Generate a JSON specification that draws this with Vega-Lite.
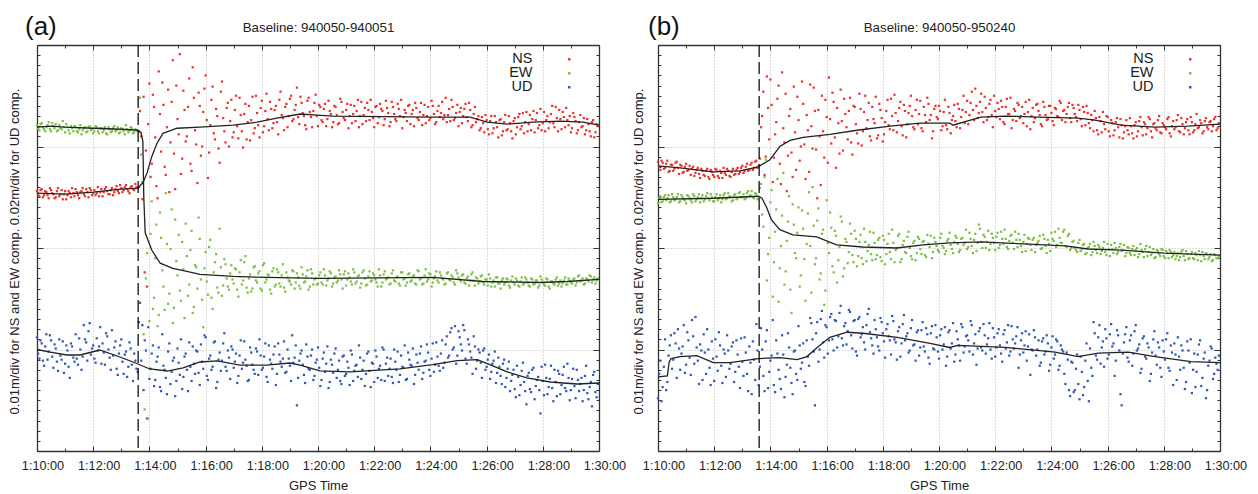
{
"$schema": "https://vega.github.io/schema/vega-lite/v6.json",
"background": "white",
"padding": {"left": 8, "top": 14, "right": 5, "bottom": 5},
"bounds": "flush",
"spacing": 59,
"config": {
  "view": {"stroke": null},
  "font": "Liberation Sans",
  "axis": {"domainColor": "#333", "domainWidth": 1.3, "tickColor": "#333", "tickWidth": 1, "gridColor": "#aaa", "gridDash": [1, 2], "gridWidth": 0.8, "labelFont": "Liberation Sans", "titleFont": "Liberation Sans", "labelColor": "#222", "titleColor": "#222", "titleFontWeight": "normal", "labelFontSize": 12.7, "titleFontSize": 13},
  "legend": {"labelFont": "Liberation Sans", "labelFontSize": 14.5, "labelColor": "#222"},
  "title": {"font": "Liberation Sans", "fontSize": 26, "fontWeight": "normal", "color": "#111"}
},
"resolve": {"scale": {"color": "independent"}, "legend": {"color": "independent"}},
"datasets": {
"pa": [
{"t":0,"NS":25.6,"EW":32.1,"UD":11.2},{"t":5,"NS":25.1,"EW":31.6,"UD":9.1},{"t":10,"NS":25.8,"EW":32.3,"UD":10.6},{"t":15,"NS":25.2,"EW":31.7,"UD":8.4},{"t":20,"NS":25.5,"EW":31.9,"UD":11.5},{"t":25,"NS":24.9,"EW":32.4,"UD":9.8},{"t":30,"NS":25.7,"EW":31.5,"UD":10.9},{"t":35,"NS":25.3,"EW":32.0,"UD":8.2},{"t":40,"NS":25.0,"EW":32.2,"UD":10.1},{"t":45,"NS":25.9,"EW":31.6,"UD":7.9},
{"t":50,"NS":25.3,"EW":31.8,"UD":9.4},{"t":55,"NS":24.8,"EW":32.5,"UD":10.8},{"t":60,"NS":25.6,"EW":31.4,"UD":8.6},{"t":65,"NS":25.2,"EW":31.9,"UD":9.9},{"t":70,"NS":25.4,"EW":31.3,"UD":7.2},{"t":75,"NS":25.9,"EW":31.8,"UD":10.3},{"t":80,"NS":25.1,"EW":32.0,"UD":8.8},{"t":85,"NS":25.5,"EW":31.5,"UD":9.1},{"t":90,"NS":24.9,"EW":31.7,"UD":11.1},{"t":95,"NS":25.6,"EW":31.2,"UD":8.0},
{"t":100,"NS":25.3,"EW":31.8,"UD":12.4},{"t":105,"NS":25.8,"EW":31.4,"UD":10.7},{"t":110,"NS":25.0,"EW":31.9,"UD":11.8},{"t":115,"NS":25.7,"EW":31.6,"UD":9.5},{"t":120,"NS":25.4,"EW":31.3,"UD":10.4},{"t":125,"NS":25.2,"EW":32.0,"UD":8.7},{"t":130,"NS":26.0,"EW":31.5,"UD":9.9},{"t":135,"NS":25.5,"EW":31.8,"UD":12.2},{"t":140,"NS":25.1,"EW":31.4,"UD":10.6},{"t":145,"NS":25.8,"EW":31.9,"UD":8.5},
{"t":150,"NS":25.6,"EW":31.2,"UD":11.3},{"t":155,"NS":25.3,"EW":31.7,"UD":9.2},{"t":160,"NS":25.9,"EW":31.5,"UD":11.9},{"t":165,"NS":25.5,"EW":32.0,"UD":10.2},{"t":170,"NS":26.1,"EW":31.6,"UD":8.1},{"t":175,"NS":25.4,"EW":31.3,"UD":9.6},{"t":180,"NS":25.9,"EW":31.8,"UD":11.0},{"t":185,"NS":25.7,"EW":31.5,"UD":7.6},{"t":190,"NS":26.2,"EW":32.1,"UD":9.8},{"t":195,"NS":25.6,"EW":31.4,"UD":8.3},
{"t":200,"NS":26.0,"EW":31.9,"UD":10.1},{"t":205,"NS":25.8,"EW":31.3,"UD":6.9},{"t":210,"NS":26.3,"EW":31.7,"UD":8.9},{"t":215,"NS":25.9,"EW":31.5,"UD":7.8},{"t":220,"NS":33.5,"EW":34.8,"UD":14.6},{"t":225,"NS":24.8,"EW":26.5,"UD":12.4},{"t":230,"NS":17.6,"EW":4.1,"UD":10.9},{"t":235,"NS":16.2,"EW":19.5,"UD":3.2},{"t":240,"NS":36.2,"EW":12.8,"UD":7.1},{"t":245,"NS":28.3,"EW":24.6,"UD":9.6},
{"t":250,"NS":33.9,"EW":15.1,"UD":6.4},{"t":255,"NS":26.1,"EW":22.3,"UD":8.8},{"t":260,"NS":37.4,"EW":13.4,"UD":10.2},{"t":265,"NS":29.5,"EW":21.0,"UD":5.9},{"t":270,"NS":34.1,"EW":16.2,"UD":8.4},{"t":275,"NS":27.2,"EW":25.4,"UD":7.2},{"t":280,"NS":35.6,"EW":14.5,"UD":9.8},{"t":285,"NS":30.4,"EW":19.9,"UD":6.6},{"t":290,"NS":38.5,"EW":12.6,"UD":8.9},{"t":295,"NS":25.8,"EW":22.8,"UD":5.4},
{"t":300,"NS":32.7,"EW":17.3,"UD":10.1},{"t":305,"NS":39.1,"EW":15.8,"UD":7.5},{"t":310,"NS":28.8,"EW":20.6,"UD":6.1},{"t":315,"NS":33.6,"EW":13.1,"UD":9.3},{"t":320,"NS":31.0,"EW":19.2,"UD":8.0},{"t":325,"NS":36.7,"EW":16.4,"UD":10.7},{"t":330,"NS":27.6,"EW":21.7,"UD":6.9},{"t":335,"NS":34.8,"EW":14.2,"UD":8.6},{"t":340,"NS":30.2,"EW":18.1,"UD":9.9},{"t":345,"NS":35.3,"EW":23.0,"UD":7.7},
{"t":350,"NS":29.1,"EW":16.9,"UD":10.5},{"t":355,"NS":33.4,"EW":12.2,"UD":8.1},{"t":360,"NS":37.0,"EW":19.6,"UD":11.2},{"t":365,"NS":26.9,"EW":15.4,"UD":7.0},{"t":370,"NS":32.1,"EW":20.8,"UD":9.4},{"t":375,"NS":35.9,"EW":14.0,"UD":8.3},{"t":380,"NS":30.7,"EW":18.6,"UD":10.8},{"t":385,"NS":33.0,"EW":16.1,"UD":6.8},{"t":390,"NS":28.4,"EW":21.9,"UD":9.7},{"t":395,"NS":36.4,"EW":15.3,"UD":8.9},
{"t":400,"NS":31.5,"EW":18.9,"UD":11.6},{"t":405,"NS":33.8,"EW":17.0,"UD":7.9},{"t":410,"NS":30.0,"EW":15.9,"UD":9.2},{"t":415,"NS":34.6,"EW":18.3,"UD":10.3},{"t":420,"NS":31.4,"EW":16.5,"UD":8.2},{"t":425,"NS":35.0,"EW":17.9,"UD":9.6},{"t":430,"NS":30.8,"EW":15.2,"UD":7.4},{"t":435,"NS":33.1,"EW":18.8,"UD":10.9},{"t":440,"NS":29.9,"EW":16.8,"UD":8.7},{"t":445,"NS":34.2,"EW":19.2,"UD":9.0},
{"t":450,"NS":32.4,"EW":15.6,"UD":6.9},{"t":455,"NS":30.6,"EW":17.4,"UD":10.2},{"t":460,"NS":34.9,"EW":16.0,"UD":8.5},{"t":465,"NS":31.8,"EW":18.2,"UD":7.6},{"t":470,"NS":33.3,"EW":16.6,"UD":9.8},{"t":475,"NS":30.9,"EW":17.7,"UD":11.0},{"t":480,"NS":34.5,"EW":15.8,"UD":8.0},{"t":485,"NS":32.0,"EW":18.5,"UD":9.3},{"t":490,"NS":35.2,"EW":16.9,"UD":7.3},{"t":495,"NS":31.6,"EW":17.3,"UD":10.4},
{"t":500,"NS":33.7,"EW":15.5,"UD":8.6},{"t":505,"NS":32.3,"EW":18.0,"UD":9.5},{"t":510,"NS":34.0,"EW":16.4,"UD":6.5},{"t":515,"NS":31.2,"EW":17.6,"UD":10.6},{"t":520,"NS":35.4,"EW":16.2,"UD":8.8},{"t":525,"NS":32.8,"EW":18.4,"UD":9.1},{"t":530,"NS":33.9,"EW":15.7,"UD":7.7},{"t":535,"NS":31.9,"EW":17.1,"UD":10.0},{"t":540,"NS":34.7,"EW":16.7,"UD":8.4},{"t":545,"NS":32.5,"EW":17.8,"UD":11.4},
{"t":550,"NS":33.6,"EW":16.0,"UD":9.2},{"t":555,"NS":35.8,"EW":17.5,"UD":4.5},{"t":560,"NS":32.2,"EW":16.3,"UD":8.9},{"t":565,"NS":34.3,"EW":18.1,"UD":9.9},{"t":570,"NS":33.0,"EW":16.6,"UD":7.5},{"t":575,"NS":31.7,"EW":17.2,"UD":10.5},{"t":580,"NS":34.8,"EW":15.9,"UD":8.1},{"t":585,"NS":32.9,"EW":17.9,"UD":9.4},{"t":590,"NS":33.5,"EW":16.4,"UD":7.0},{"t":595,"NS":35.1,"EW":17.0,"UD":8.7},
{"t":600,"NS":32.0,"EW":16.5,"UD":10.2},{"t":605,"NS":33.9,"EW":17.6,"UD":6.4},{"t":610,"NS":32.4,"EW":16.4,"UD":9.1},{"t":615,"NS":34.2,"EW":17.3,"UD":7.8},{"t":620,"NS":32.7,"EW":16.8,"UD":10.3},{"t":625,"NS":33.5,"EW":17.7,"UD":6.8},{"t":630,"NS":31.9,"EW":16.2,"UD":8.5},{"t":635,"NS":34.0,"EW":17.1,"UD":9.6},{"t":640,"NS":33.1,"EW":16.6,"UD":7.2},{"t":645,"NS":32.3,"EW":17.8,"UD":8.9},
{"t":650,"NS":34.4,"EW":16.9,"UD":6.6},{"t":655,"NS":32.8,"EW":17.4,"UD":9.4},{"t":660,"NS":33.6,"EW":16.3,"UD":7.6},{"t":665,"NS":31.8,"EW":17.5,"UD":8.2},{"t":670,"NS":34.1,"EW":16.7,"UD":9.9},{"t":675,"NS":33.2,"EW":17.9,"UD":6.9},{"t":680,"NS":32.5,"EW":16.5,"UD":8.4},{"t":685,"NS":34.6,"EW":17.2,"UD":7.3},{"t":690,"NS":33.0,"EW":16.1,"UD":9.2},{"t":695,"NS":32.2,"EW":17.6,"UD":8.0},
{"t":700,"NS":33.8,"EW":17.0,"UD":6.4},{"t":705,"NS":34.3,"EW":16.4,"UD":9.6},{"t":710,"NS":32.6,"EW":17.7,"UD":7.9},{"t":715,"NS":33.4,"EW":16.8,"UD":8.7},{"t":720,"NS":31.9,"EW":17.3,"UD":6.8},{"t":725,"NS":34.0,"EW":16.6,"UD":9.3},{"t":730,"NS":32.9,"EW":17.9,"UD":8.1},{"t":735,"NS":33.7,"EW":16.2,"UD":7.0},{"t":740,"NS":32.1,"EW":17.4,"UD":10.0},{"t":745,"NS":34.5,"EW":16.9,"UD":8.6},
{"t":750,"NS":33.3,"EW":17.1,"UD":7.4},{"t":755,"NS":32.4,"EW":16.5,"UD":9.1},{"t":760,"NS":33.9,"EW":17.8,"UD":6.7},{"t":765,"NS":32.7,"EW":16.7,"UD":8.8},{"t":770,"NS":34.2,"EW":17.2,"UD":9.8},{"t":775,"NS":33.0,"EW":16.3,"UD":7.5},{"t":780,"NS":31.8,"EW":17.6,"UD":8.3},{"t":785,"NS":33.6,"EW":17.0,"UD":10.4},{"t":790,"NS":32.5,"EW":16.6,"UD":7.1},{"t":795,"NS":34.1,"EW":17.5,"UD":9.0},
{"t":800,"NS":33.2,"EW":16.8,"UD":8.4},{"t":805,"NS":32.0,"EW":17.3,"UD":6.6},{"t":810,"NS":33.8,"EW":16.4,"UD":9.5},{"t":815,"NS":32.6,"EW":17.7,"UD":8.0},{"t":820,"NS":34.3,"EW":17.0,"UD":10.3},{"t":825,"NS":33.1,"EW":16.5,"UD":7.7},{"t":830,"NS":32.3,"EW":17.9,"UD":8.9},{"t":835,"NS":33.9,"EW":16.9,"UD":9.7},{"t":840,"NS":32.8,"EW":17.4,"UD":7.4},{"t":845,"NS":34.0,"EW":16.6,"UD":10.6},
{"t":850,"NS":32.2,"EW":17.2,"UD":8.5},{"t":855,"NS":33.5,"EW":16.8,"UD":9.3},{"t":860,"NS":32.9,"EW":17.6,"UD":7.9},{"t":865,"NS":34.4,"EW":17.0,"UD":10.9},{"t":870,"NS":33.1,"EW":16.4,"UD":8.7},{"t":875,"NS":32.4,"EW":17.5,"UD":11.3},{"t":880,"NS":33.7,"EW":16.9,"UD":9.4},{"t":885,"NS":34.6,"EW":17.3,"UD":12.1},{"t":890,"NS":32.6,"EW":16.6,"UD":10.2},{"t":895,"NS":33.3,"EW":17.8,"UD":8.6},
{"t":900,"NS":32.0,"EW":17.1,"UD":11.8},{"t":905,"NS":33.8,"EW":16.7,"UD":10.5},{"t":910,"NS":33.0,"EW":17.4,"UD":12.4},{"t":915,"NS":34.2,"EW":16.5,"UD":9.1},{"t":920,"NS":32.5,"EW":17.2,"UD":11.0},{"t":925,"NS":33.6,"EW":16.8,"UD":9.8},{"t":930,"NS":32.1,"EW":17.6,"UD":7.6},{"t":935,"NS":33.9,"EW":16.3,"UD":10.3},{"t":940,"NS":32.7,"EW":17.0,"UD":8.9},{"t":945,"NS":31.6,"EW":16.7,"UD":9.7},
{"t":950,"NS":32.9,"EW":17.3,"UD":7.2},{"t":955,"NS":31.4,"EW":16.4,"UD":10.1},{"t":960,"NS":32.6,"EW":16.9,"UD":8.3},{"t":965,"NS":31.2,"EW":17.4,"UD":9.5},{"t":970,"NS":33.0,"EW":16.2,"UD":7.8},{"t":975,"NS":31.8,"EW":16.8,"UD":8.9},{"t":980,"NS":32.4,"EW":17.1,"UD":6.7},{"t":985,"NS":30.9,"EW":16.5,"UD":9.2},{"t":990,"NS":32.7,"EW":16.0,"UD":7.4},{"t":995,"NS":31.5,"EW":17.0,"UD":8.6},
{"t":1000,"NS":33.1,"EW":16.6,"UD":6.3},{"t":1005,"NS":31.7,"EW":16.9,"UD":8.1},{"t":1010,"NS":32.3,"EW":16.1,"UD":5.9},{"t":1015,"NS":30.8,"EW":17.2,"UD":7.5},{"t":1020,"NS":32.8,"EW":16.4,"UD":6.1},{"t":1025,"NS":31.9,"EW":16.8,"UD":8.4},{"t":1030,"NS":33.2,"EW":16.2,"UD":5.5},{"t":1035,"NS":32.0,"EW":17.1,"UD":7.9},{"t":1040,"NS":31.3,"EW":16.5,"UD":6.8},{"t":1045,"NS":33.4,"EW":16.9,"UD":4.6},
{"t":1050,"NS":32.2,"EW":16.3,"UD":7.7},{"t":1055,"NS":31.6,"EW":17.0,"UD":5.8},{"t":1060,"NS":33.5,"EW":16.4,"UD":8.2},{"t":1065,"NS":32.6,"EW":16.8,"UD":6.4},{"t":1070,"NS":31.8,"EW":16.1,"UD":7.3},{"t":1075,"NS":33.7,"EW":17.2,"UD":3.7},{"t":1080,"NS":32.3,"EW":16.6,"UD":6.9},{"t":1085,"NS":31.5,"EW":16.3,"UD":8.5},{"t":1090,"NS":33.0,"EW":16.9,"UD":5.6},{"t":1095,"NS":32.4,"EW":16.0,"UD":7.1},
{"t":1100,"NS":34.0,"EW":16.7,"UD":6.2},{"t":1105,"NS":31.9,"EW":16.4,"UD":8.0},{"t":1110,"NS":32.8,"EW":17.1,"UD":5.4},{"t":1115,"NS":33.6,"EW":16.5,"UD":7.6},{"t":1120,"NS":31.7,"EW":16.2,"UD":6.5},{"t":1125,"NS":32.9,"EW":16.8,"UD":8.3},{"t":1130,"NS":33.8,"EW":16.4,"UD":5.9},{"t":1135,"NS":32.1,"EW":17.0,"UD":7.2},{"t":1140,"NS":31.4,"EW":16.6,"UD":6.0},{"t":1145,"NS":33.3,"EW":16.9,"UD":8.1},
{"t":1150,"NS":32.5,"EW":16.3,"UD":5.2},{"t":1155,"NS":31.6,"EW":17.2,"UD":7.0},{"t":1160,"NS":33.1,"EW":16.7,"UD":6.6},{"t":1165,"NS":32.0,"EW":17.0,"UD":4.9},{"t":1170,"NS":31.2,"EW":16.5,"UD":7.4},{"t":1175,"NS":32.7,"EW":16.9,"UD":5.7},{"t":1180,"NS":31.5,"EW":17.3,"UD":6.3},{"t":1185,"NS":32.4,"EW":16.6,"UD":4.4},{"t":1190,"NS":30.9,"EW":17.1,"UD":7.8},{"t":1195,"NS":32.2,"EW":16.8,"UD":5.3},
{"t":2.5,"NS":25.3,"EW":31.8,"UD":9.6},{"t":7.5,"NS":25.7,"EW":32.2,"UD":10.9},{"t":12.5,"NS":25.0,"EW":31.9,"UD":8.9},{"t":17.5,"NS":25.6,"EW":31.5,"UD":10.3},{"t":22.5,"NS":25.2,"EW":32.1,"UD":9.0},{"t":27.5,"NS":25.9,"EW":31.7,"UD":11.4},{"t":32.5,"NS":25.4,"EW":32.3,"UD":9.3},{"t":37.5,"NS":24.9,"EW":31.8,"UD":10.5},{"t":42.5,"NS":25.6,"EW":31.5,"UD":8.8},{"t":47.5,"NS":25.1,"EW":32.1,"UD":11.0},
{"t":52.5,"NS":25.7,"EW":31.7,"UD":9.0},{"t":57.5,"NS":25.3,"EW":31.9,"UD":7.7},{"t":62.5,"NS":24.8,"EW":32.2,"UD":10.4},{"t":67.5,"NS":25.6,"EW":31.6,"UD":8.3},{"t":72.5,"NS":25.0,"EW":32.0,"UD":10.6},{"t":77.5,"NS":25.4,"EW":31.5,"UD":9.2},{"t":82.5,"NS":25.8,"EW":31.9,"UD":11.5},{"t":87.5,"NS":25.2,"EW":31.4,"UD":8.5},{"t":92.5,"NS":25.5,"EW":32.1,"UD":10.0},{"t":97.5,"NS":25.9,"EW":31.6,"UD":9.3},
{"t":102.5,"NS":25.1,"EW":31.9,"UD":11.0},{"t":107.5,"NS":25.5,"EW":31.5,"UD":8.9},{"t":112.5,"NS":25.9,"EW":32.0,"UD":12.6},{"t":117.5,"NS":25.2,"EW":31.7,"UD":10.1},{"t":122.5,"NS":25.7,"EW":31.5,"UD":9.1},{"t":127.5,"NS":25.4,"EW":31.9,"UD":11.1},{"t":132.5,"NS":25.1,"EW":31.3,"UD":10.3},{"t":137.5,"NS":25.8,"EW":31.8,"UD":8.6},{"t":142.5,"NS":25.5,"EW":31.6,"UD":9.7},{"t":147.5,"NS":26.0,"EW":31.3,"UD":11.6},
{"t":152.5,"NS":25.3,"EW":31.9,"UD":10.0},{"t":157.5,"NS":25.7,"EW":31.4,"UD":8.0},{"t":162.5,"NS":25.2,"EW":31.8,"UD":9.4},{"t":167.5,"NS":25.8,"EW":31.5,"UD":10.8},{"t":172.5,"NS":25.6,"EW":31.9,"UD":7.5},{"t":177.5,"NS":26.2,"EW":31.4,"UD":10.4},{"t":182.5,"NS":25.5,"EW":31.7,"UD":8.8},{"t":187.5,"NS":26.0,"EW":31.2,"UD":9.5},{"t":192.5,"NS":25.8,"EW":31.7,"UD":7.3},{"t":197.5,"NS":25.4,"EW":31.6,"UD":10.7},
{"t":202.5,"NS":26.1,"EW":31.8,"UD":8.5},{"t":207.5,"NS":25.7,"EW":31.4,"UD":9.6},{"t":212.5,"NS":26.0,"EW":31.6,"UD":8.1},{"t":217.5,"NS":26.0,"EW":31.4,"UD":12.7},{"t":222.5,"NS":31.0,"EW":29.2,"UD":8.9},{"t":227.5,"NS":34.9,"EW":11.5,"UD":6.0},{"t":232.5,"NS":29.6,"EW":17.0,"UD":9.9},{"t":237.5,"NS":32.2,"EW":3.2,"UD":12.2},{"t":242.5,"NS":27.0,"EW":21.4,"UD":8.1},{"t":247.5,"NS":35.1,"EW":14.0,"UD":10.4},
{"t":252.5,"NS":30.9,"EW":19.0,"UD":7.0},{"t":257.5,"NS":24.9,"EW":12.3,"UD":9.3},{"t":262.5,"NS":33.2,"EW":23.5,"UD":6.3},{"t":267.5,"NS":36.3,"EW":17.8,"UD":11.5},{"t":272.5,"NS":28.0,"EW":13.9,"UD":8.0},{"t":277.5,"NS":31.9,"EW":20.4,"UD":5.6},{"t":282.5,"NS":25.5,"EW":15.5,"UD":10.6},{"t":287.5,"NS":34.4,"EW":23.8,"UD":7.8},{"t":292.5,"NS":29.3,"EW":14.1,"UD":9.2},{"t":297.5,"NS":36.0,"EW":18.7,"UD":6.9},
{"t":302.5,"NS":31.2,"EW":21.3,"UD":8.7},{"t":307.5,"NS":27.3,"EW":14.8,"UD":11.0},{"t":312.5,"NS":35.5,"EW":17.9,"UD":7.3},{"t":317.5,"NS":30.5,"EW":22.4,"UD":9.6},{"t":322.5,"NS":33.9,"EW":15.3,"UD":5.9},{"t":327.5,"NS":28.3,"EW":19.8,"UD":8.3},{"t":332.5,"NS":37.8,"EW":13.6,"UD":10.3},{"t":337.5,"NS":31.6,"EW":18.3,"UD":7.6},{"t":342.5,"NS":26.4,"EW":16.0,"UD":9.8},{"t":347.5,"NS":34.0,"EW":20.9,"UD":6.5},
{"t":352.5,"NS":30.0,"EW":14.9,"UD":8.8},{"t":357.5,"NS":35.7,"EW":18.0,"UD":11.4},{"t":362.5,"NS":32.6,"EW":16.7,"UD":7.4},{"t":367.5,"NS":29.4,"EW":20.1,"UD":9.1},{"t":372.5,"NS":34.6,"EW":15.1,"UD":8.0},{"t":377.5,"NS":31.3,"EW":17.6,"UD":10.7},{"t":382.5,"NS":33.7,"EW":19.4,"UD":6.2},{"t":387.5,"NS":29.8,"EW":15.6,"UD":9.0},{"t":392.5,"NS":35.4,"EW":18.1,"UD":7.9},{"t":397.5,"NS":32.8,"EW":16.3,"UD":10.6},
{"t":402.5,"NS":30.4,"EW":18.4,"UD":8.3},{"t":407.5,"NS":34.3,"EW":16.2,"UD":9.9},{"t":412.5,"NS":32.5,"EW":17.5,"UD":7.1},{"t":417.5,"NS":30.9,"EW":16.9,"UD":10.0},{"t":422.5,"NS":33.6,"EW":18.0,"UD":8.8},{"t":427.5,"NS":32.0,"EW":15.9,"UD":6.7},{"t":432.5,"NS":34.8,"EW":17.6,"UD":9.4},{"t":437.5,"NS":31.5,"EW":16.4,"UD":8.1},{"t":442.5,"NS":33.2,"EW":18.6,"UD":10.8},{"t":447.5,"NS":30.7,"EW":16.1,"UD":8.4},
{"t":452.5,"NS":34.0,"EW":17.0,"UD":7.0},{"t":457.5,"NS":32.6,"EW":15.7,"UD":9.7},{"t":462.5,"NS":31.3,"EW":18.1,"UD":8.0},{"t":467.5,"NS":35.0,"EW":16.8,"UD":10.1},{"t":472.5,"NS":32.1,"EW":17.5,"UD":7.5},{"t":477.5,"NS":33.8,"EW":16.0,"UD":9.4},{"t":482.5,"NS":31.4,"EW":18.3,"UD":8.2},{"t":487.5,"NS":33.5,"EW":16.6,"UD":10.6},{"t":492.5,"NS":32.7,"EW":17.4,"UD":6.8},{"t":497.5,"NS":34.4,"EW":15.9,"UD":9.0},
{"t":502.5,"NS":31.8,"EW":17.7,"UD":8.1},{"t":507.5,"NS":33.6,"EW":16.2,"UD":10.3},{"t":512.5,"NS":32.4,"EW":17.9,"UD":7.6},{"t":517.5,"NS":34.6,"EW":16.5,"UD":9.5},{"t":522.5,"NS":33.1,"EW":17.3,"UD":8.3},{"t":527.5,"NS":31.6,"EW":16.1,"UD":10.8},{"t":532.5,"NS":34.2,"EW":17.6,"UD":7.8},{"t":537.5,"NS":33.0,"EW":16.8,"UD":9.1},{"t":542.5,"NS":35.0,"EW":16.4,"UD":6.9},{"t":547.5,"NS":32.7,"EW":17.7,"UD":8.7},
{"t":552.5,"NS":34.1,"EW":16.6,"UD":10.4},{"t":557.5,"NS":32.9,"EW":17.1,"UD":7.2},{"t":562.5,"NS":34.9,"EW":16.0,"UD":9.6},{"t":567.5,"NS":33.3,"EW":17.4,"UD":8.5},{"t":572.5,"NS":32.1,"EW":16.7,"UD":6.7},{"t":577.5,"NS":34.5,"EW":17.8,"UD":9.3},{"t":582.5,"NS":33.4,"EW":16.2,"UD":8.0},{"t":587.5,"NS":31.9,"EW":17.5,"UD":10.0},{"t":592.5,"NS":34.3,"EW":16.9,"UD":7.4},{"t":597.5,"NS":33.0,"EW":16.4,"UD":9.0},
{"t":602.5,"NS":34.1,"EW":17.3,"UD":8.2},{"t":607.5,"NS":32.6,"EW":16.6,"UD":7.0},{"t":612.5,"NS":33.7,"EW":17.9,"UD":9.7},{"t":617.5,"NS":32.0,"EW":16.3,"UD":8.6},{"t":622.5,"NS":34.5,"EW":17.0,"UD":6.2},{"t":627.5,"NS":33.2,"EW":17.5,"UD":9.0},{"t":632.5,"NS":32.4,"EW":16.5,"UD":7.7},{"t":637.5,"NS":33.9,"EW":17.2,"UD":10.1},{"t":642.5,"NS":32.2,"EW":16.8,"UD":8.0},{"t":647.5,"NS":34.7,"EW":17.4,"UD":6.9},
{"t":652.5,"NS":33.4,"EW":16.0,"UD":9.3},{"t":657.5,"NS":32.6,"EW":17.7,"UD":7.4},{"t":662.5,"NS":34.2,"EW":16.9,"UD":8.8},{"t":667.5,"NS":33.0,"EW":17.1,"UD":6.5},{"t":672.5,"NS":32.3,"EW":16.4,"UD":9.5},{"t":677.5,"NS":34.0,"EW":17.6,"UD":7.9},{"t":682.5,"NS":33.5,"EW":16.7,"UD":8.5},{"t":687.5,"NS":31.9,"EW":17.3,"UD":10.4},{"t":692.5,"NS":34.4,"EW":16.5,"UD":7.1},{"t":697.5,"NS":33.1,"EW":17.8,"UD":8.9},
{"t":702.5,"NS":32.5,"EW":16.3,"UD":7.6},{"t":707.5,"NS":33.6,"EW":17.2,"UD":9.8},{"t":712.5,"NS":34.6,"EW":16.7,"UD":6.3},{"t":717.5,"NS":32.8,"EW":17.5,"UD":8.6},{"t":722.5,"NS":33.9,"EW":16.9,"UD":9.9},{"t":727.5,"NS":32.3,"EW":16.2,"UD":7.2},{"t":732.5,"NS":34.2,"EW":17.3,"UD":8.4},{"t":737.5,"NS":33.5,"EW":16.6,"UD":10.2},{"t":742.5,"NS":32.7,"EW":17.7,"UD":6.9},{"t":747.5,"NS":33.8,"EW":17.0,"UD":9.2},
{"t":752.5,"NS":32.0,"EW":16.4,"UD":8.1},{"t":757.5,"NS":34.4,"EW":17.5,"UD":7.3},{"t":762.5,"NS":33.2,"EW":16.8,"UD":10.0},{"t":767.5,"NS":32.5,"EW":17.1,"UD":8.0},{"t":772.5,"NS":33.7,"EW":16.5,"UD":6.8},{"t":777.5,"NS":34.6,"EW":17.6,"UD":9.4},{"t":782.5,"NS":32.9,"EW":16.9,"UD":8.2},{"t":787.5,"NS":33.3,"EW":16.3,"UD":7.0},{"t":792.5,"NS":34.0,"EW":17.4,"UD":9.7},{"t":797.5,"NS":32.2,"EW":16.7,"UD":8.5},
{"t":802.5,"NS":33.6,"EW":17.2,"UD":10.1},{"t":807.5,"NS":34.3,"EW":16.5,"UD":7.5},{"t":812.5,"NS":32.8,"EW":17.8,"UD":8.7},{"t":817.5,"NS":33.4,"EW":16.9,"UD":9.6},{"t":822.5,"NS":32.1,"EW":16.4,"UD":7.1},{"t":827.5,"NS":34.1,"EW":17.3,"UD":8.8},{"t":832.5,"NS":33.0,"EW":16.7,"UD":10.5},{"t":837.5,"NS":32.6,"EW":17.5,"UD":8.0},{"t":842.5,"NS":34.5,"EW":16.2,"UD":9.1},{"t":847.5,"NS":33.2,"EW":17.0,"UD":7.8},
{"t":852.5,"NS":32.4,"EW":17.7,"UD":10.7},{"t":857.5,"NS":34.0,"EW":16.6,"UD":8.4},{"t":862.5,"NS":33.3,"EW":17.3,"UD":9.6},{"t":867.5,"NS":32.7,"EW":16.9,"UD":8.2},{"t":872.5,"NS":34.8,"EW":16.5,"UD":10.5},{"t":877.5,"NS":33.1,"EW":17.6,"UD":9.2},{"t":882.5,"NS":32.5,"EW":16.8,"UD":11.7},{"t":887.5,"NS":33.9,"EW":17.1,"UD":10.0},{"t":892.5,"NS":32.8,"EW":16.4,"UD":12.3},{"t":897.5,"NS":34.1,"EW":17.5,"UD":9.4},
{"t":902.5,"NS":33.4,"EW":16.9,"UD":11.2},{"t":907.5,"NS":32.3,"EW":17.3,"UD":9.9},{"t":912.5,"NS":33.7,"EW":16.6,"UD":11.9},{"t":917.5,"NS":32.9,"EW":17.0,"UD":8.6},{"t":922.5,"NS":34.3,"EW":16.3,"UD":10.5},{"t":927.5,"NS":31.9,"EW":17.4,"UD":9.2},{"t":932.5,"NS":33.2,"EW":16.8,"UD":11.3},{"t":937.5,"NS":32.4,"EW":17.1,"UD":8.1},{"t":942.5,"NS":33.0,"EW":16.5,"UD":10.0},{"t":947.5,"NS":31.8,"EW":17.2,"UD":8.7},
{"t":952.5,"NS":32.3,"EW":16.6,"UD":9.9},{"t":957.5,"NS":33.1,"EW":16.9,"UD":8.0},{"t":962.5,"NS":31.7,"EW":16.3,"UD":9.0},{"t":967.5,"NS":32.5,"EW":17.0,"UD":7.1},{"t":972.5,"NS":31.3,"EW":16.6,"UD":8.6},{"t":977.5,"NS":33.0,"EW":16.2,"UD":9.8},{"t":982.5,"NS":31.9,"EW":17.1,"UD":7.7},{"t":987.5,"NS":32.6,"EW":16.5,"UD":8.3},{"t":992.5,"NS":31.1,"EW":16.8,"UD":6.6},{"t":997.5,"NS":32.4,"EW":16.4,"UD":9.0},
{"t":1002.5,"NS":31.6,"EW":17.0,"UD":7.2},{"t":1007.5,"NS":33.0,"EW":16.3,"UD":8.8},{"t":1012.5,"NS":31.5,"EW":16.8,"UD":6.9},{"t":1017.5,"NS":32.5,"EW":16.6,"UD":8.0},{"t":1022.5,"NS":31.2,"EW":17.0,"UD":5.3},{"t":1027.5,"NS":32.9,"EW":16.3,"UD":7.3},{"t":1032.5,"NS":31.7,"EW":16.7,"UD":6.5},{"t":1037.5,"NS":33.3,"EW":16.4,"UD":8.7},{"t":1042.5,"NS":32.4,"EW":17.1,"UD":5.9},{"t":1047.5,"NS":31.5,"EW":16.6,"UD":7.4},
{"t":1052.5,"NS":33.1,"EW":16.2,"UD":6.1},{"t":1057.5,"NS":32.7,"EW":16.9,"UD":8.0},{"t":1062.5,"NS":31.4,"EW":16.5,"UD":5.1},{"t":1067.5,"NS":33.3,"EW":16.8,"UD":7.0},{"t":1072.5,"NS":32.1,"EW":16.3,"UD":6.0},{"t":1077.5,"NS":31.6,"EW":16.9,"UD":8.3},{"t":1082.5,"NS":33.4,"EW":16.4,"UD":5.5},{"t":1087.5,"NS":32.6,"EW":17.0,"UD":7.2},{"t":1092.5,"NS":31.8,"EW":16.2,"UD":6.3},{"t":1097.5,"NS":33.2,"EW":16.7,"UD":8.4},
{"t":1102.5,"NS":32.3,"EW":16.5,"UD":4.9},{"t":1107.5,"NS":33.9,"EW":16.9,"UD":6.8},{"t":1112.5,"NS":31.5,"EW":16.3,"UD":7.9},{"t":1117.5,"NS":32.7,"EW":16.8,"UD":5.6},{"t":1122.5,"NS":33.4,"EW":16.5,"UD":7.5},{"t":1127.5,"NS":31.9,"EW":17.1,"UD":6.2},{"t":1132.5,"NS":32.6,"EW":16.4,"UD":8.6},{"t":1137.5,"NS":33.0,"EW":16.8,"UD":5.0},{"t":1142.5,"NS":31.8,"EW":16.5,"UD":7.1},{"t":1147.5,"NS":32.9,"EW":17.0,"UD":6.4},
{"t":1152.5,"NS":31.3,"EW":16.6,"UD":8.0},{"t":1157.5,"NS":32.4,"EW":17.3,"UD":5.9},{"t":1162.5,"NS":31.9,"EW":16.8,"UD":7.2},{"t":1167.5,"NS":32.8,"EW":16.4,"UD":6.0},{"t":1172.5,"NS":31.6,"EW":17.0,"UD":8.4},{"t":1177.5,"NS":32.2,"EW":16.7,"UD":5.1},{"t":1182.5,"NS":31.0,"EW":17.2,"UD":6.8},{"t":1187.5,"NS":32.6,"EW":16.9,"UD":7.5},{"t":1192.5,"NS":31.4,"EW":16.5,"UD":5.8},{"t":1197.5,"NS":32.0,"EW":17.0,"UD":6.6}
],
"la": [
{"t":0,"s":"NS","v":25.4},{"t":60,"s":"NS","v":25.3},{"t":120,"s":"NS","v":25.5},{"t":180,"s":"NS","v":25.8},{"t":216,"s":"NS","v":25.9},{"t":221,"s":"NS","v":26.2},{"t":226,"s":"NS","v":26.4},{"t":235,"s":"NS","v":27.4},{"t":245,"s":"NS","v":29.0},{"t":256,"s":"NS","v":30.3},{"t":269,"s":"NS","v":31.3},{"t":299,"s":"NS","v":31.8},{"t":348,"s":"NS","v":31.9},{"t":419,"s":"NS","v":32.1},{"t":470,"s":"NS","v":32.4},{"t":512,"s":"NS","v":32.8},{"t":562,"s":"NS","v":33.2},{"t":598,"s":"NS","v":33.1},{"t":632,"s":"NS","v":33.0},{"t":845,"s":"NS","v":32.9},{"t":925,"s":"NS","v":32.9},{"t":961,"s":"NS","v":32.4},{"t":1004,"s":"NS","v":32.2},{"t":1059,"s":"NS","v":32.4},{"t":1117,"s":"NS","v":32.5},{"t":1166,"s":"NS","v":32.4},{"t":1200,"s":"NS","v":32.1},
{"t":0,"s":"EW","v":31.9},{"t":30,"s":"EW","v":32.0},{"t":60,"s":"EW","v":31.9},{"t":120,"s":"EW","v":31.8},{"t":180,"s":"EW","v":31.7},{"t":216,"s":"EW","v":31.6},{"t":222,"s":"EW","v":31.4},{"t":226,"s":"EW","v":30.5},{"t":228,"s":"EW","v":25.0},{"t":231,"s":"EW","v":21.5},{"t":245,"s":"EW","v":19.8},{"t":263,"s":"EW","v":18.5},{"t":290,"s":"EW","v":18.0},{"t":320,"s":"EW","v":17.7},{"t":348,"s":"EW","v":17.4},{"t":419,"s":"EW","v":17.2},{"t":491,"s":"EW","v":17.1},{"t":604,"s":"EW","v":17.0},{"t":845,"s":"EW","v":17.1},{"t":952,"s":"EW","v":16.7},{"t":1074,"s":"EW","v":16.6},{"t":1132,"s":"EW","v":16.7},{"t":1200,"s":"EW","v":16.9},
{"t":0,"s":"UD","v":10.0},{"t":28,"s":"UD","v":9.75},{"t":64,"s":"UD","v":9.46},{"t":92,"s":"UD","v":9.46},{"t":134,"s":"UD","v":9.95},{"t":171,"s":"UD","v":9.36},{"t":205,"s":"UD","v":8.77},{"t":241,"s":"UD","v":8.08},{"t":278,"s":"UD","v":7.88},{"t":312,"s":"UD","v":8.18},{"t":348,"s":"UD","v":8.77},{"t":385,"s":"UD","v":8.87},{"t":433,"s":"UD","v":8.47},{"t":491,"s":"UD","v":8.47},{"t":540,"s":"UD","v":8.67},{"t":562,"s":"UD","v":8.47},{"t":604,"s":"UD","v":7.9},{"t":668,"s":"UD","v":7.8},{"t":775,"s":"UD","v":8.1},{"t":845,"s":"UD","v":8.5},{"t":897,"s":"UD","v":8.9},{"t":940,"s":"UD","v":9.0},{"t":967,"s":"UD","v":8.5},{"t":1004,"s":"UD","v":7.8},{"t":1046,"s":"UD","v":7.2},{"t":1096,"s":"UD","v":6.8},{"t":1153,"s":"UD","v":6.6},{"t":1200,"s":"UD","v":6.7}
],
"pb": [
{"t":0,"NS":28.5,"EW":24.4,"UD":5.2},{"t":5,"NS":27.7,"EW":25.1,"UD":8.9},{"t":10,"NS":28.4,"EW":24.6,"UD":6.3},{"t":15,"NS":27.9,"EW":25.2,"UD":11.0},{"t":20,"NS":28.6,"EW":24.9,"UD":6.8},{"t":25,"NS":27.6,"EW":24.5,"UD":10.4},{"t":30,"NS":28.2,"EW":25.3,"UD":8.1},{"t":35,"NS":27.8,"EW":24.7,"UD":11.6},{"t":40,"NS":28.5,"EW":25.0,"UD":7.2},{"t":45,"NS":27.3,"EW":24.5,"UD":10.1},
{"t":50,"NS":28.1,"EW":25.2,"UD":9.6},{"t":55,"NS":27.5,"EW":24.8,"UD":12.4},{"t":60,"NS":28.3,"EW":24.4,"UD":8.5},{"t":65,"NS":27.7,"EW":25.1,"UD":10.9},{"t":70,"NS":27.2,"EW":24.7,"UD":7.5},{"t":75,"NS":28.0,"EW":25.3,"UD":11.3},{"t":80,"NS":27.4,"EW":24.6,"UD":13.2},{"t":85,"NS":27.9,"EW":25.0,"UD":8.9},{"t":90,"NS":26.9,"EW":24.5,"UD":10.5},{"t":95,"NS":27.6,"EW":25.2,"UD":7.0},
{"t":100,"NS":27.1,"EW":24.8,"UD":9.7},{"t":105,"NS":27.8,"EW":25.4,"UD":12.0},{"t":110,"NS":26.8,"EW":24.7,"UD":8.2},{"t":115,"NS":27.5,"EW":25.0,"UD":10.8},{"t":120,"NS":27.0,"EW":24.6,"UD":6.9},{"t":125,"NS":27.7,"EW":25.3,"UD":9.3},{"t":130,"NS":26.9,"EW":24.9,"UD":11.7},{"t":135,"NS":27.4,"EW":24.5,"UD":8.4},{"t":140,"NS":27.9,"EW":25.2,"UD":10.0},{"t":145,"NS":27.2,"EW":24.8,"UD":7.3},
{"t":150,"NS":27.6,"EW":25.4,"UD":9.9},{"t":155,"NS":27.0,"EW":25.0,"UD":8.6},{"t":160,"NS":27.8,"EW":24.7,"UD":10.7},{"t":165,"NS":27.3,"EW":25.3,"UD":7.8},{"t":170,"NS":27.9,"EW":24.9,"UD":9.5},{"t":175,"NS":27.5,"EW":25.5,"UD":6.2},{"t":180,"NS":28.1,"EW":25.0,"UD":8.8},{"t":185,"NS":27.6,"EW":24.8,"UD":11.2},{"t":190,"NS":28.3,"EW":25.4,"UD":7.6},{"t":195,"NS":27.7,"EW":25.1,"UD":10.3},
{"t":200,"NS":28.4,"EW":25.6,"UD":5.6},{"t":205,"NS":27.9,"EW":24.9,"UD":9.0},{"t":210,"NS":28.6,"EW":25.3,"UD":12.5},{"t":215,"NS":28.1,"EW":25.0,"UD":6.5},{"t":220,"NS":31.9,"EW":26.3,"UD":12.1},{"t":225,"NS":35.4,"EW":22.1,"UD":7.4},{"t":230,"NS":29.0,"EW":28.7,"UD":10.8},{"t":235,"NS":33.8,"EW":19.4,"UD":6.2},{"t":240,"NS":36.6,"EW":24.5,"UD":8.9},{"t":245,"NS":26.5,"EW":15.2,"UD":12.9},
{"t":250,"NS":31.2,"EW":21.6,"UD":5.8},{"t":255,"NS":34.7,"EW":26.8,"UD":9.6},{"t":260,"NS":28.3,"EW":18.0,"UD":7.1},{"t":265,"NS":37.3,"EW":23.2,"UD":11.4},{"t":270,"NS":30.4,"EW":16.4,"UD":5.3},{"t":275,"NS":25.6,"EW":20.7,"UD":8.5},{"t":280,"NS":33.0,"EW":25.1,"UD":10.2},{"t":285,"NS":29.4,"EW":13.6,"UD":6.7},{"t":290,"NS":35.9,"EW":22.3,"UD":9.8},{"t":295,"NS":27.7,"EW":19.0,"UD":7.6},
{"t":300,"NS":32.6,"EW":24.0,"UD":12.3},{"t":305,"NS":30.0,"EW":17.3,"UD":8.1},{"t":310,"NS":34.2,"EW":21.9,"UD":10.6},{"t":315,"NS":26.8,"EW":14.8,"UD":6.4},{"t":320,"NS":31.6,"EW":23.4,"UD":9.3},{"t":325,"NS":36.1,"EW":20.2,"UD":13.1},{"t":330,"NS":29.8,"EW":26.0,"UD":11.0},{"t":335,"NS":33.5,"EW":18.4,"UD":4.5},{"t":340,"NS":24.9,"EW":22.7,"UD":12.7},{"t":345,"NS":31.0,"EW":16.9,"UD":10.0},
{"t":350,"NS":35.0,"EW":21.4,"UD":13.8},{"t":355,"NS":28.9,"EW":14.4,"UD":9.2},{"t":360,"NS":32.9,"EW":24.7,"UD":12.2},{"t":365,"NS":36.8,"EW":19.5,"UD":10.9},{"t":370,"NS":30.3,"EW":22.0,"UD":13.5},{"t":375,"NS":34.4,"EW":17.6,"UD":9.9},{"t":380,"NS":27.9,"EW":21.2,"UD":12.8},{"t":385,"NS":32.3,"EW":18.8,"UD":11.3},{"t":390,"NS":35.6,"EW":23.1,"UD":14.3},{"t":395,"NS":29.6,"EW":17.2,"UD":10.4},
{"t":400,"NS":33.2,"EW":20.9,"UD":12.6},{"t":405,"NS":30.7,"EW":18.5,"UD":11.8},{"t":410,"NS":34.8,"EW":22.4,"UD":13.7},{"t":415,"NS":29.2,"EW":19.3,"UD":10.1},{"t":420,"NS":33.9,"EW":21.7,"UD":12.9},{"t":425,"NS":31.3,"EW":18.2,"UD":9.4},{"t":430,"NS":35.2,"EW":20.6,"UD":13.2},{"t":435,"NS":30.1,"EW":19.0,"UD":11.5},{"t":440,"NS":33.4,"EW":21.9,"UD":10.7},{"t":445,"NS":31.8,"EW":18.7,"UD":12.4},
{"t":450,"NS":34.3,"EW":20.3,"UD":14.0},{"t":455,"NS":30.6,"EW":19.4,"UD":11.1},{"t":460,"NS":32.7,"EW":21.5,"UD":9.6},{"t":465,"NS":34.9,"EW":18.9,"UD":12.0},{"t":470,"NS":31.1,"EW":20.8,"UD":10.3},{"t":475,"NS":33.6,"EW":19.1,"UD":13.1},{"t":480,"NS":30.5,"EW":21.2,"UD":11.6},{"t":485,"NS":32.4,"EW":18.4,"UD":9.2},{"t":490,"NS":34.6,"EW":20.4,"UD":12.5},{"t":495,"NS":31.7,"EW":19.6,"UD":10.9},
{"t":500,"NS":33.0,"EW":21.8,"UD":13.3},{"t":505,"NS":35.1,"EW":18.6,"UD":11.0},{"t":510,"NS":31.4,"EW":20.0,"UD":9.0},{"t":515,"NS":33.8,"EW":21.4,"UD":12.2},{"t":520,"NS":32.0,"EW":18.9,"UD":10.6},{"t":525,"NS":34.1,"EW":20.7,"UD":13.4},{"t":530,"NS":30.9,"EW":19.5,"UD":11.3},{"t":535,"NS":33.3,"EW":21.6,"UD":9.7},{"t":540,"NS":35.0,"EW":19.2,"UD":12.1},{"t":545,"NS":31.9,"EW":20.5,"UD":10.4},
{"t":550,"NS":33.6,"EW":18.8,"UD":8.9},{"t":555,"NS":32.2,"EW":21.1,"UD":11.9},{"t":560,"NS":34.5,"EW":19.9,"UD":10.2},{"t":565,"NS":31.5,"EW":20.6,"UD":12.7},{"t":570,"NS":33.1,"EW":19.3,"UD":9.8},{"t":575,"NS":34.8,"EW":21.3,"UD":11.5},{"t":580,"NS":32.6,"EW":20.1,"UD":8.6},{"t":585,"NS":30.8,"EW":19.0,"UD":12.3},{"t":590,"NS":33.7,"EW":21.0,"UD":10.0},{"t":595,"NS":32.9,"EW":20.2,"UD":11.2},
{"t":600,"NS":34.0,"EW":19.6,"UD":9.1},{"t":605,"NS":31.6,"EW":21.4,"UD":12.0},{"t":610,"NS":33.4,"EW":20.0,"UD":10.5},{"t":615,"NS":32.1,"EW":19.7,"UD":8.4},{"t":620,"NS":33.9,"EW":20.9,"UD":11.7},{"t":625,"NS":31.3,"EW":20.3,"UD":10.1},{"t":630,"NS":33.0,"EW":19.5,"UD":12.6},{"t":635,"NS":32.5,"EW":21.2,"UD":9.5},{"t":640,"NS":34.2,"EW":20.4,"UD":11.0},{"t":645,"NS":31.8,"EW":19.8,"UD":8.9},
{"t":650,"NS":33.6,"EW":21.0,"UD":12.2},{"t":655,"NS":32.3,"EW":20.5,"UD":10.3},{"t":660,"NS":34.5,"EW":19.9,"UD":11.4},{"t":665,"NS":33.1,"EW":21.5,"UD":9.8},{"t":670,"NS":35.4,"EW":20.2,"UD":12.4},{"t":675,"NS":32.6,"EW":20.8,"UD":10.6},{"t":680,"NS":34.0,"EW":19.7,"UD":8.5},{"t":685,"NS":33.3,"EW":22.3,"UD":11.8},{"t":690,"NS":35.2,"EW":20.6,"UD":10.2},{"t":695,"NS":32.4,"EW":21.3,"UD":12.5},
{"t":700,"NS":33.8,"EW":20.0,"UD":9.6},{"t":705,"NS":32.9,"EW":21.7,"UD":11.1},{"t":710,"NS":34.6,"EW":20.4,"UD":10.0},{"t":715,"NS":31.9,"EW":21.0,"UD":12.1},{"t":720,"NS":33.5,"EW":19.8,"UD":9.3},{"t":725,"NS":34.3,"EW":21.5,"UD":11.6},{"t":730,"NS":32.7,"EW":20.3,"UD":10.4},{"t":735,"NS":33.9,"EW":20.9,"UD":8.8},{"t":740,"NS":32.2,"EW":21.8,"UD":11.9},{"t":745,"NS":34.7,"EW":20.1,"UD":10.7},
{"t":750,"NS":33.2,"EW":20.7,"UD":9.4},{"t":755,"NS":31.8,"EW":21.3,"UD":12.3},{"t":760,"NS":33.7,"EW":19.9,"UD":10.1},{"t":765,"NS":32.5,"EW":20.8,"UD":11.3},{"t":770,"NS":34.1,"EW":21.4,"UD":8.2},{"t":775,"NS":33.0,"EW":20.2,"UD":10.9},{"t":780,"NS":32.3,"EW":20.6,"UD":9.7},{"t":785,"NS":34.4,"EW":19.7,"UD":11.8},{"t":790,"NS":33.4,"EW":21.0,"UD":10.3},{"t":795,"NS":31.7,"EW":20.3,"UD":7.5},
{"t":800,"NS":33.8,"EW":20.8,"UD":9.9},{"t":805,"NS":32.8,"EW":19.6,"UD":11.2},{"t":810,"NS":34.2,"EW":20.5,"UD":10.0},{"t":815,"NS":33.1,"EW":21.2,"UD":8.4},{"t":820,"NS":32.0,"EW":20.0,"UD":10.8},{"t":825,"NS":33.9,"EW":20.9,"UD":9.5},{"t":830,"NS":32.6,"EW":19.5,"UD":11.4},{"t":835,"NS":34.0,"EW":20.4,"UD":7.9},{"t":840,"NS":33.3,"EW":21.5,"UD":10.2},{"t":845,"NS":32.1,"EW":20.7,"UD":9.1},
{"t":850,"NS":33.7,"EW":20.1,"UD":11.0},{"t":855,"NS":32.9,"EW":21.9,"UD":8.0},{"t":860,"NS":34.3,"EW":20.5,"UD":10.4},{"t":865,"NS":33.5,"EW":21.6,"UD":9.8},{"t":870,"NS":32.4,"EW":20.2,"UD":6.6},{"t":875,"NS":33.9,"EW":21.2,"UD":9.0},{"t":880,"NS":32.8,"EW":19.8,"UD":5.4},{"t":885,"NS":34.1,"EW":20.6,"UD":8.7},{"t":890,"NS":33.2,"EW":20.0,"UD":6.0},{"t":895,"NS":32.5,"EW":19.6,"UD":9.5},
{"t":900,"NS":33.6,"EW":20.8,"UD":5.1},{"t":905,"NS":32.0,"EW":19.9,"UD":7.8},{"t":910,"NS":33.4,"EW":20.4,"UD":6.3},{"t":915,"NS":34.0,"EW":19.5,"UD":10.6},{"t":920,"NS":32.3,"EW":20.1,"UD":4.9},{"t":925,"NS":33.1,"EW":19.3,"UD":8.2},{"t":930,"NS":31.5,"EW":20.6,"UD":12.7},{"t":935,"NS":32.8,"EW":19.8,"UD":9.4},{"t":940,"NS":31.2,"EW":20.3,"UD":11.2},{"t":945,"NS":32.5,"EW":19.4,"UD":8.6},
{"t":950,"NS":33.4,"EW":20.0,"UD":10.8},{"t":955,"NS":31.7,"EW":19.6,"UD":12.0},{"t":960,"NS":32.9,"EW":20.4,"UD":9.1},{"t":965,"NS":31.0,"EW":19.2,"UD":11.5},{"t":970,"NS":32.3,"EW":19.9,"UD":10.3},{"t":975,"NS":31.6,"EW":20.5,"UD":7.4},{"t":980,"NS":32.8,"EW":19.4,"UD":11.9},{"t":985,"NS":30.9,"EW":20.1,"UD":9.9},{"t":990,"NS":32.1,"EW":19.7,"UD":4.5},{"t":995,"NS":31.4,"EW":20.3,"UD":10.7},
{"t":1000,"NS":32.6,"EW":19.5,"UD":12.2},{"t":1005,"NS":31.2,"EW":20.0,"UD":8.8},{"t":1010,"NS":32.0,"EW":19.3,"UD":11.4},{"t":1015,"NS":30.8,"EW":20.2,"UD":9.6},{"t":1020,"NS":32.4,"EW":19.8,"UD":12.4},{"t":1025,"NS":31.5,"EW":19.1,"UD":10.1},{"t":1030,"NS":32.9,"EW":20.4,"UD":7.7},{"t":1035,"NS":31.1,"EW":19.6,"UD":11.1},{"t":1040,"NS":32.2,"EW":19.9,"UD":9.3},{"t":1045,"NS":31.8,"EW":19.2,"UD":10.6},
{"t":1050,"NS":32.7,"EW":20.1,"UD":6.9},{"t":1055,"NS":30.9,"EW":19.5,"UD":9.7},{"t":1060,"NS":32.3,"EW":19.0,"UD":11.8},{"t":1065,"NS":31.6,"EW":19.8,"UD":8.5},{"t":1070,"NS":33.0,"EW":19.4,"UD":10.2},{"t":1075,"NS":31.3,"EW":19.9,"UD":7.3},{"t":1080,"NS":32.1,"EW":19.2,"UD":9.8},{"t":1085,"NS":31.7,"EW":19.7,"UD":11.0},{"t":1090,"NS":32.9,"EW":19.0,"UD":8.2},{"t":1095,"NS":31.0,"EW":19.6,"UD":10.4},
{"t":1100,"NS":32.5,"EW":19.3,"UD":6.5},{"t":1105,"NS":31.9,"EW":18.9,"UD":9.5},{"t":1110,"NS":33.1,"EW":19.5,"UD":11.2},{"t":1115,"NS":31.4,"EW":19.1,"UD":8.0},{"t":1120,"NS":32.2,"EW":19.8,"UD":9.9},{"t":1125,"NS":31.8,"EW":18.8,"UD":6.1},{"t":1130,"NS":32.7,"EW":19.4,"UD":10.8},{"t":1135,"NS":31.2,"EW":19.0,"UD":8.7},{"t":1140,"NS":32.4,"EW":19.6,"UD":5.7},{"t":1145,"NS":31.6,"EW":18.9,"UD":9.6},
{"t":1150,"NS":33.2,"EW":19.3,"UD":7.8},{"t":1155,"NS":31.9,"EW":19.7,"UD":10.5},{"t":1160,"NS":32.3,"EW":18.7,"UD":6.4},{"t":1165,"NS":31.5,"EW":19.2,"UD":9.1},{"t":1170,"NS":32.8,"EW":19.5,"UD":5.2},{"t":1175,"NS":31.7,"EW":18.9,"UD":8.4},{"t":1180,"NS":32.5,"EW":19.4,"UD":10.3},{"t":1185,"NS":32.0,"EW":18.8,"UD":7.1},{"t":1190,"NS":32.9,"EW":19.3,"UD":9.2},{"t":1195,"NS":31.8,"EW":19.0,"UD":8.0},
{"t":2.5,"NS":28.0,"EW":24.9,"UD":7.6},{"t":7.5,"NS":28.6,"EW":24.5,"UD":4.9},{"t":12.5,"NS":27.8,"EW":25.0,"UD":8.3},{"t":17.5,"NS":28.3,"EW":24.7,"UD":6.0},{"t":22.5,"NS":27.5,"EW":25.2,"UD":9.4},{"t":27.5,"NS":28.2,"EW":24.6,"UD":11.4},{"t":32.5,"NS":27.6,"EW":25.0,"UD":9.0},{"t":37.5,"NS":28.4,"EW":24.8,"UD":10.6},{"t":42.5,"NS":27.9,"EW":25.3,"UD":12.0},{"t":47.5,"NS":28.2,"EW":24.6,"UD":8.0},
{"t":52.5,"NS":27.4,"EW":25.0,"UD":10.3},{"t":57.5,"NS":28.0,"EW":24.7,"UD":7.7},{"t":62.5,"NS":27.6,"EW":25.2,"UD":11.7},{"t":67.5,"NS":28.1,"EW":24.9,"UD":9.2},{"t":72.5,"NS":27.8,"EW":24.5,"UD":12.9},{"t":77.5,"NS":27.1,"EW":25.1,"UD":8.6},{"t":82.5,"NS":27.7,"EW":24.8,"UD":10.2},{"t":87.5,"NS":27.3,"EW":25.3,"UD":6.6},{"t":92.5,"NS":27.8,"EW":24.9,"UD":9.9},{"t":97.5,"NS":27.2,"EW":24.6,"UD":11.5},
{"t":102.5,"NS":27.6,"EW":25.1,"UD":7.6},{"t":107.5,"NS":27.0,"EW":24.9,"UD":10.0},{"t":112.5,"NS":27.7,"EW":25.3,"UD":6.5},{"t":117.5,"NS":27.2,"EW":24.6,"UD":9.1},{"t":122.5,"NS":27.8,"EW":25.0,"UD":11.0},{"t":127.5,"NS":27.1,"EW":24.7,"UD":7.9},{"t":132.5,"NS":27.6,"EW":25.2,"UD":10.4},{"t":137.5,"NS":26.9,"EW":24.8,"UD":6.7},{"t":142.5,"NS":27.4,"EW":25.4,"UD":9.6},{"t":147.5,"NS":27.8,"EW":24.9,"UD":11.4},
{"t":152.5,"NS":27.1,"EW":25.1,"UD":8.1},{"t":157.5,"NS":27.5,"EW":24.6,"UD":10.3},{"t":162.5,"NS":27.2,"EW":25.2,"UD":6.8},{"t":167.5,"NS":27.7,"EW":24.8,"UD":10.9},{"t":172.5,"NS":27.3,"EW":25.4,"UD":8.3},{"t":177.5,"NS":27.9,"EW":25.0,"UD":11.1},{"t":182.5,"NS":27.4,"EW":25.3,"UD":7.4},{"t":187.5,"NS":28.0,"EW":24.9,"UD":9.7},{"t":192.5,"NS":27.6,"EW":25.6,"UD":5.9},{"t":197.5,"NS":28.2,"EW":25.2,"UD":8.7},
{"t":202.5,"NS":27.7,"EW":25.0,"UD":10.8},{"t":207.5,"NS":28.5,"EW":25.4,"UD":7.0},{"t":212.5,"NS":27.9,"EW":24.8,"UD":9.9},{"t":217.5,"NS":28.8,"EW":25.9,"UD":8.3},{"t":222.5,"NS":33.0,"EW":23.3,"UD":10.0},{"t":227.5,"NS":27.2,"EW":27.0,"UD":5.9},{"t":232.5,"NS":36.9,"EW":16.8,"UD":11.9},{"t":237.5,"NS":30.7,"EW":21.0,"UD":7.8},{"t":242.5,"NS":34.1,"EW":25.7,"UD":9.4},{"t":247.5,"NS":28.9,"EW":18.6,"UD":6.5},
{"t":252.5,"NS":32.4,"EW":23.8,"UD":10.9},{"t":257.5,"NS":36.0,"EW":14.7,"UD":8.0},{"t":262.5,"NS":26.3,"EW":20.2,"UD":6.1},{"t":267.5,"NS":31.8,"EW":27.4,"UD":9.5},{"t":272.5,"NS":35.2,"EW":17.7,"UD":7.3},{"t":277.5,"NS":29.1,"EW":22.6,"UD":11.6},{"t":282.5,"NS":33.7,"EW":15.9,"UD":8.2},{"t":287.5,"NS":27.0,"EW":24.3,"UD":5.6},{"t":292.5,"NS":31.4,"EW":19.5,"UD":9.9},{"t":297.5,"NS":34.9,"EW":21.5,"UD":7.0},
{"t":302.5,"NS":28.6,"EW":16.2,"UD":10.4},{"t":307.5,"NS":36.4,"EW":23.7,"UD":8.7},{"t":312.5,"NS":30.2,"EW":18.9,"UD":6.8},{"t":317.5,"NS":33.1,"EW":20.4,"UD":10.9},{"t":322.5,"NS":27.5,"EW":25.5,"UD":8.4},{"t":327.5,"NS":32.0,"EW":15.6,"UD":12.6},{"t":332.5,"NS":35.8,"EW":22.2,"UD":9.8},{"t":337.5,"NS":29.7,"EW":19.0,"UD":11.6},{"t":342.5,"NS":33.6,"EW":23.9,"UD":8.8},{"t":347.5,"NS":26.2,"EW":17.5,"UD":13.0},
{"t":352.5,"NS":31.5,"EW":21.8,"UD":10.7},{"t":357.5,"NS":34.6,"EW":15.8,"UD":12.4},{"t":362.5,"NS":28.4,"EW":20.5,"UD":9.6},{"t":367.5,"NS":32.7,"EW":23.5,"UD":13.2},{"t":372.5,"NS":35.3,"EW":18.2,"UD":11.0},{"t":377.5,"NS":30.9,"EW":21.7,"UD":12.9},{"t":382.5,"NS":33.8,"EW":16.6,"UD":10.2},{"t":387.5,"NS":29.3,"EW":20.1,"UD":13.6},{"t":392.5,"NS":32.5,"EW":22.6,"UD":11.1},{"t":397.5,"NS":34.7,"EW":18.0,"UD":12.3},
{"t":402.5,"NS":31.9,"EW":20.6,"UD":10.5},{"t":407.5,"NS":33.5,"EW":19.6,"UD":13.9},{"t":412.5,"NS":30.4,"EW":21.4,"UD":11.4},{"t":417.5,"NS":34.0,"EW":18.6,"UD":12.8},{"t":422.5,"NS":32.2,"EW":20.9,"UD":9.8},{"t":427.5,"NS":30.3,"EW":19.2,"UD":13.0},{"t":432.5,"NS":33.7,"EW":21.3,"UD":11.2},{"t":437.5,"NS":31.5,"EW":18.4,"UD":12.2},{"t":442.5,"NS":35.0,"EW":20.6,"UD":10.0},{"t":447.5,"NS":32.6,"EW":19.7,"UD":13.5},
{"t":452.5,"NS":31.0,"EW":21.6,"UD":11.7},{"t":457.5,"NS":33.9,"EW":18.8,"UD":10.4},{"t":462.5,"NS":32.3,"EW":20.5,"UD":12.9},{"t":467.5,"NS":30.8,"EW":19.3,"UD":11.2},{"t":472.5,"NS":34.2,"EW":21.0,"UD":9.9},{"t":477.5,"NS":32.8,"EW":18.7,"UD":12.7},{"t":482.5,"NS":31.2,"EW":20.8,"UD":10.8},{"t":487.5,"NS":33.5,"EW":19.4,"UD":12.0},{"t":492.5,"NS":32.1,"EW":21.4,"UD":11.3},{"t":497.5,"NS":34.7,"EW":18.9,"UD":9.5},
{"t":502.5,"NS":31.6,"EW":20.5,"UD":12.8},{"t":507.5,"NS":33.3,"EW":19.8,"UD":10.7},{"t":512.5,"NS":32.5,"EW":21.2,"UD":11.8},{"t":517.5,"NS":34.4,"EW":18.6,"UD":9.3},{"t":522.5,"NS":31.1,"EW":20.3,"UD":12.5},{"t":527.5,"NS":33.5,"EW":19.6,"UD":10.9},{"t":532.5,"NS":32.2,"EW":21.1,"UD":11.6},{"t":537.5,"NS":34.0,"EW":20.0,"UD":9.9},{"t":542.5,"NS":33.0,"EW":18.9,"UD":12.9},{"t":547.5,"NS":31.7,"EW":20.7,"UD":10.5},
{"t":552.5,"NS":34.6,"EW":19.5,"UD":11.7},{"t":557.5,"NS":33.2,"EW":20.9,"UD":9.4},{"t":562.5,"NS":31.8,"EW":19.4,"UD":11.9},{"t":567.5,"NS":33.9,"EW":20.7,"UD":10.3},{"t":572.5,"NS":32.4,"EW":19.1,"UD":12.1},{"t":577.5,"NS":34.2,"EW":20.4,"UD":9.2},{"t":582.5,"NS":33.1,"EW":21.2,"UD":11.6},{"t":587.5,"NS":31.5,"EW":19.6,"UD":10.1},{"t":592.5,"NS":34.0,"EW":20.6,"UD":12.4},{"t":597.5,"NS":32.7,"EW":19.8,"UD":9.8},
{"t":602.5,"NS":33.5,"EW":21.0,"UD":11.4},{"t":607.5,"NS":32.0,"EW":20.2,"UD":10.0},{"t":612.5,"NS":34.6,"EW":19.4,"UD":12.2},{"t":617.5,"NS":31.7,"EW":20.7,"UD":9.3},{"t":622.5,"NS":33.3,"EW":21.5,"UD":11.9},{"t":627.5,"NS":32.6,"EW":19.9,"UD":10.6},{"t":632.5,"NS":34.1,"EW":20.6,"UD":8.8},{"t":637.5,"NS":31.9,"EW":21.0,"UD":11.8},{"t":642.5,"NS":33.7,"EW":19.6,"UD":10.4},{"t":647.5,"NS":32.9,"EW":20.9,"UD":12.5},
{"t":652.5,"NS":35.0,"EW":20.3,"UD":9.7},{"t":657.5,"NS":33.4,"EW":21.8,"UD":11.3},{"t":662.5,"NS":32.2,"EW":20.1,"UD":10.9},{"t":667.5,"NS":34.3,"EW":20.9,"UD":12.8},{"t":672.5,"NS":33.6,"EW":19.5,"UD":9.5},{"t":677.5,"NS":35.7,"EW":21.4,"UD":11.5},{"t":682.5,"NS":32.8,"EW":20.5,"UD":10.1},{"t":687.5,"NS":34.4,"EW":21.9,"UD":12.1},{"t":692.5,"NS":33.4,"EW":20.0,"UD":9.9},{"t":697.5,"NS":34.9,"EW":21.1,"UD":11.4},
{"t":702.5,"NS":32.6,"EW":20.6,"UD":10.5},{"t":707.5,"NS":34.2,"EW":19.8,"UD":12.6},{"t":712.5,"NS":33.1,"EW":21.4,"UD":9.1},{"t":717.5,"NS":35.0,"EW":20.5,"UD":11.2},{"t":722.5,"NS":32.9,"EW":21.1,"UD":10.2},{"t":727.5,"NS":33.7,"EW":20.0,"UD":12.0},{"t":732.5,"NS":34.5,"EW":21.6,"UD":9.6},{"t":737.5,"NS":32.4,"EW":20.4,"UD":11.5},{"t":742.5,"NS":33.9,"EW":20.9,"UD":10.1},{"t":747.5,"NS":33.2,"EW":19.9,"UD":12.4},
{"t":752.5,"NS":34.8,"EW":21.2,"UD":9.8},{"t":757.5,"NS":32.6,"EW":20.5,"UD":11.0},{"t":762.5,"NS":33.5,"EW":21.6,"UD":10.6},{"t":767.5,"NS":34.3,"EW":20.1,"UD":12.2},{"t":772.5,"NS":32.8,"EW":20.8,"UD":9.5},{"t":777.5,"NS":33.9,"EW":19.6,"UD":11.6},{"t":782.5,"NS":33.2,"EW":21.3,"UD":10.4},{"t":787.5,"NS":32.0,"EW":20.4,"UD":8.9},{"t":792.5,"NS":34.6,"EW":20.9,"UD":11.5},{"t":797.5,"NS":33.0,"EW":19.8,"UD":10.0},
{"t":802.5,"NS":32.4,"EW":21.0,"UD":11.9},{"t":807.5,"NS":34.1,"EW":20.3,"UD":9.4},{"t":812.5,"NS":33.5,"EW":20.7,"UD":10.9},{"t":817.5,"NS":32.2,"EW":19.9,"UD":8.7},{"t":822.5,"NS":34.4,"EW":21.3,"UD":11.1},{"t":827.5,"NS":33.1,"EW":20.2,"UD":9.8},{"t":832.5,"NS":32.7,"EW":20.8,"UD":10.6},{"t":837.5,"NS":34.0,"EW":19.7,"UD":8.5},{"t":842.5,"NS":32.5,"EW":20.9,"UD":11.3},{"t":847.5,"NS":33.8,"EW":21.6,"UD":9.5},
{"t":852.5,"NS":33.0,"EW":20.3,"UD":10.8},{"t":857.5,"NS":34.5,"EW":21.0,"UD":8.4},{"t":862.5,"NS":32.6,"EW":20.5,"UD":10.0},{"t":867.5,"NS":33.6,"EW":21.8,"UD":7.6},{"t":872.5,"NS":33.2,"EW":20.1,"UD":9.7},{"t":877.5,"NS":34.3,"EW":21.4,"UD":6.0},{"t":882.5,"NS":32.4,"EW":20.0,"UD":8.8},{"t":887.5,"NS":33.8,"EW":20.7,"UD":5.8},{"t":892.5,"NS":32.9,"EW":19.8,"UD":8.1},{"t":897.5,"NS":34.1,"EW":20.5,"UD":6.6},
{"t":902.5,"NS":32.7,"EW":19.7,"UD":9.3},{"t":907.5,"NS":33.9,"EW":20.3,"UD":5.5},{"t":912.5,"NS":32.1,"EW":19.4,"UD":8.9},{"t":917.5,"NS":33.3,"EW":20.0,"UD":6.9},{"t":922.5,"NS":31.8,"EW":20.4,"UD":10.1},{"t":927.5,"NS":32.6,"EW":19.6,"UD":7.4},{"t":932.5,"NS":33.5,"EW":20.2,"UD":11.6},{"t":937.5,"NS":31.6,"EW":19.5,"UD":9.0},{"t":942.5,"NS":32.9,"EW":20.1,"UD":12.4},{"t":947.5,"NS":31.4,"EW":19.7,"UD":10.2},
{"t":952.5,"NS":32.2,"EW":20.6,"UD":8.3},{"t":957.5,"NS":33.0,"EW":19.3,"UD":11.1},{"t":962.5,"NS":31.5,"EW":19.9,"UD":9.5},{"t":967.5,"NS":32.6,"EW":20.3,"UD":12.5},{"t":972.5,"NS":31.1,"EW":19.5,"UD":10.6},{"t":977.5,"NS":32.4,"EW":20.0,"UD":8.9},{"t":982.5,"NS":31.9,"EW":19.6,"UD":11.4},{"t":987.5,"NS":32.7,"EW":20.4,"UD":5.6},{"t":992.5,"NS":30.8,"EW":19.8,"UD":9.6},{"t":997.5,"NS":32.0,"EW":19.2,"UD":11.5},
{"t":1002.5,"NS":31.6,"EW":20.1,"UD":9.2},{"t":1007.5,"NS":32.8,"EW":19.5,"UD":10.9},{"t":1012.5,"NS":31.3,"EW":19.9,"UD":8.4},{"t":1017.5,"NS":32.1,"EW":19.3,"UD":11.8},{"t":1022.5,"NS":31.0,"EW":20.0,"UD":9.9},{"t":1027.5,"NS":32.5,"EW":19.4,"UD":10.5},{"t":1032.5,"NS":31.9,"EW":19.8,"UD":8.1},{"t":1037.5,"NS":32.4,"EW":19.1,"UD":11.3},{"t":1042.5,"NS":31.2,"EW":20.2,"UD":9.1},{"t":1047.5,"NS":32.9,"EW":19.6,"UD":10.2},
{"t":1052.5,"NS":31.5,"EW":19.3,"UD":7.6},{"t":1057.5,"NS":32.2,"EW":19.9,"UD":11.0},{"t":1062.5,"NS":31.8,"EW":19.1,"UD":9.4},{"t":1067.5,"NS":32.6,"EW":19.7,"UD":10.7},{"t":1072.5,"NS":31.4,"EW":19.2,"UD":8.2},{"t":1077.5,"NS":32.3,"EW":19.8,"UD":10.9},{"t":1082.5,"NS":31.9,"EW":19.0,"UD":9.0},{"t":1087.5,"NS":32.7,"EW":19.5,"UD":11.6},{"t":1092.5,"NS":31.3,"EW":19.8,"UD":7.9},{"t":1097.5,"NS":32.0,"EW":19.1,"UD":9.7},
{"t":1102.5,"NS":31.7,"EW":19.6,"UD":10.6},{"t":1107.5,"NS":32.6,"EW":19.2,"UD":7.0},{"t":1112.5,"NS":31.5,"EW":18.8,"UD":9.3},{"t":1117.5,"NS":32.8,"EW":19.6,"UD":10.4},{"t":1122.5,"NS":31.2,"EW":19.2,"UD":8.2},{"t":1127.5,"NS":32.4,"EW":19.7,"UD":6.8},{"t":1132.5,"NS":31.6,"EW":18.9,"UD":9.9},{"t":1137.5,"NS":32.9,"EW":19.4,"UD":11.0},{"t":1142.5,"NS":31.4,"EW":19.0,"UD":8.0},{"t":1147.5,"NS":32.2,"EW":19.5,"UD":6.3},
{"t":1152.5,"NS":31.8,"EW":18.8,"UD":9.5},{"t":1157.5,"NS":32.6,"EW":19.3,"UD":10.9},{"t":1162.5,"NS":31.3,"EW":19.6,"UD":7.2},{"t":1167.5,"NS":32.5,"EW":18.9,"UD":9.7},{"t":1172.5,"NS":31.9,"EW":19.4,"UD":6.0},{"t":1177.5,"NS":32.4,"EW":19.1,"UD":8.9},{"t":1182.5,"NS":31.5,"EW":18.7,"UD":10.1},{"t":1187.5,"NS":32.7,"EW":19.4,"UD":7.6},{"t":1192.5,"NS":31.6,"EW":19.0,"UD":8.6},{"t":1197.5,"NS":32.3,"EW":19.2,"UD":9.4}
],
"lb": [
{"t":0,"s":"NS","v":28.1},{"t":47,"s":"NS","v":27.9},{"t":118,"s":"NS","v":27.5},{"t":175,"s":"NS","v":27.6},{"t":214,"s":"NS","v":28.0},{"t":239,"s":"NS","v":28.7},{"t":252,"s":"NS","v":29.5},{"t":260,"s":"NS","v":30.0},{"t":282,"s":"NS","v":30.6},{"t":310,"s":"NS","v":30.9},{"t":367,"s":"NS","v":31.2},{"t":425,"s":"NS","v":31.6},{"t":496,"s":"NS","v":32.0},{"t":559,"s":"NS","v":32.3},{"t":623,"s":"NS","v":32.3},{"t":630,"s":"NS","v":32.1},{"t":689,"s":"NS","v":32.9},{"t":741,"s":"NS","v":33.0},{"t":811,"s":"NS","v":32.9},{"t":897,"s":"NS","v":32.8},{"t":933,"s":"NS","v":32.6},{"t":989,"s":"NS","v":32.1},{"t":1061,"s":"NS","v":31.9},{"t":1132,"s":"NS","v":32.0},{"t":1200,"s":"NS","v":32.2},
{"t":0,"s":"EW","v":24.8},{"t":118,"s":"EW","v":24.9},{"t":214,"s":"EW","v":25.1},{"t":222,"s":"EW","v":24.9},{"t":232,"s":"EW","v":24.0},{"t":242,"s":"EW","v":22.8},{"t":260,"s":"EW","v":21.8},{"t":288,"s":"EW","v":21.3},{"t":339,"s":"EW","v":21.1},{"t":381,"s":"EW","v":20.3},{"t":437,"s":"EW","v":20.1},{"t":510,"s":"EW","v":20.0},{"t":566,"s":"EW","v":20.3},{"t":623,"s":"EW","v":20.5},{"t":690,"s":"EW","v":20.6},{"t":780,"s":"EW","v":20.4},{"t":870,"s":"EW","v":20.2},{"t":918,"s":"EW","v":19.9},{"t":990,"s":"EW","v":19.8},{"t":1080,"s":"EW","v":19.5},{"t":1140,"s":"EW","v":19.4},{"t":1200,"s":"EW","v":19.3},
{"t":0,"s":"UD","v":7.3},{"t":20,"s":"UD","v":7.4},{"t":24,"s":"UD","v":8.8},{"t":28,"s":"UD","v":9.1},{"t":47,"s":"UD","v":9.3},{"t":83,"s":"UD","v":9.4},{"t":118,"s":"UD","v":8.7},{"t":154,"s":"UD","v":8.7},{"t":214,"s":"UD","v":9.1},{"t":260,"s":"UD","v":9.2},{"t":297,"s":"UD","v":9.0},{"t":318,"s":"UD","v":9.3},{"t":340,"s":"UD","v":10.2},{"t":367,"s":"UD","v":11.2},{"t":404,"s":"UD","v":11.7},{"t":438,"s":"UD","v":11.6},{"t":511,"s":"UD","v":11.2},{"t":581,"s":"UD","v":10.6},{"t":623,"s":"UD","v":10.2},{"t":640,"s":"UD","v":10.4},{"t":741,"s":"UD","v":10.2},{"t":848,"s":"UD","v":9.75},{"t":897,"s":"UD","v":9.3},{"t":940,"s":"UD","v":9.65},{"t":1004,"s":"UD","v":9.75},{"t":1061,"s":"UD","v":9.3},{"t":1138,"s":"UD","v":8.8},{"t":1200,"s":"UD","v":8.7}
],
"quake": [{"q":216}]
},
"hconcat": [
{
  "width": 562, "height": 406,
  "title": {"text": "(a)", "frame": "group", "anchor": "start", "baseline": "alphabetic", "offset": 0, "dx": -12, "dy": 41},
  "resolve": {"axis": {"x": "independent", "y": "independent"}},
  "layer": [
    {
      "data": {"name": "pa"},
      "transform": [{"fold": ["NS", "EW", "UD"], "as": ["s", "v"]}],
      "mark": {"type": "square", "size": 5, "opacity": 1},
      "encoding": {
        "x": {"field": "t", "type": "quantitative", "scale": {"domain": [0, 1200], "nice": false, "zero": false},
          "axis": {"orient": "bottom", "values": [0,60,120,180,240,300,360,420,480,540,600,660,720,780,840,900,960,1020,1080,1140,1200],
            "labelExpr": "datum.value % 120 === 0 ? '1:' + (10 + datum.value / 60) + ':00' : ''",
            "labelFlush": false, "labelOverlap": false, "labelOffset": 5.5, "labelPadding": 13,
            "tickSize": {"condition": {"test": "datum.value % 120 === 0", "value": -5}, "value": -3},
            "grid": true, "gridOpacity": {"condition": {"test": "datum.value % 120 === 0 && datum.value > 0 && datum.value < 1200", "value": 1}, "value": 0},
            "title": "GPS Time", "titleY": 34, "titleBaseline": "middle"}},
        "y": {"field": "v", "type": "quantitative", "scale": {"domain": [0, 40], "nice": false},
          "axis": {"orient": "left", "values": [0,1,2,3,4,5,6,7,8,9,10,11,12,13,14,15,16,17,18,19,20,21,22,23,24,25,26,27,28,29,30,31,32,33,34,35,36,37,38,39,40],
            "labels": false,
            "tickSize": {"condition": {"test": "datum.value % 10 === 0", "value": -6}, "value": -3},
            "grid": true, "gridOpacity": {"condition": {"test": "datum.value % 10 === 0 && datum.value > 0 && datum.value < 40", "value": 1}, "value": 0},
            "title": "0.01m/div for NS and EW comp. 0.02m/div for UD comp.", "titleX": -22.5, "titleY": 206, "titleAngle": -90, "titleAlign": "center", "titleBaseline": "middle"}},
        "color": {"field": "s", "type": "nominal", "scale": {"domain": ["NS", "EW", "UD"], "range": ["#eb322d", "#7cbf45", "#2d5ab4"]},
          "legend": {"orient": "none", "legendX": 525, "legendY": 7, "direction": "vertical", "title": null, "labelAlign": "right", "labelOffset": -44, "symbolSize": 6, "symbolType": "square", "rowPadding": -1, "padding": 0}}
      }
    },
    {
      "data": {"name": "la"},
      "mark": {"type": "line", "color": "#222", "strokeWidth": 1.3},
      "encoding": {
        "x": {"field": "t", "type": "quantitative",
          "axis": {"orient": "top", "values": [0,60,120,180,240,300,360,420,480,540,600,660,720,780,840,900,960,1020,1080,1140,1200],
            "labels": false, "grid": false,
            "tickSize": {"condition": {"test": "datum.value % 120 === 0", "value": -5}, "value": -3},
            "title": "Baseline: 940050-940051", "titleFontSize": 13.3, "titleX": 281, "titleY": -14, "titleAlign": "center", "titleBaseline": "alphabetic", "titleAngle": 0}},
        "y": {"field": "v", "type": "quantitative",
          "axis": {"orient": "right", "values": [0,1,2,3,4,5,6,7,8,9,10,11,12,13,14,15,16,17,18,19,20,21,22,23,24,25,26,27,28,29,30,31,32,33,34,35,36,37,38,39,40],
            "labels": false, "grid": false, "title": null,
            "tickSize": {"condition": {"test": "datum.value % 10 === 0", "value": -6}, "value": -3}}},
        "detail": {"field": "s"}
      }
    },
    {
      "data": {"name": "quake"},
      "mark": {"type": "rule", "strokeDash": [12, 5], "color": "#111", "strokeWidth": 1.3},
      "encoding": {"x": {"field": "q", "type": "quantitative", "axis": null}}
    }
  ]
},
{
  "width": 562, "height": 406,
  "title": {"text": "(b)", "frame": "group", "anchor": "start", "baseline": "alphabetic", "offset": 0, "dx": -10, "dy": 41},
  "resolve": {"axis": {"x": "independent", "y": "independent"}},
  "layer": [
    {
      "data": {"name": "pb"},
      "transform": [{"fold": ["NS", "EW", "UD"], "as": ["s", "v"]}],
      "mark": {"type": "square", "size": 5, "opacity": 1},
      "encoding": {
        "x": {"field": "t", "type": "quantitative", "scale": {"domain": [0, 1200], "nice": false, "zero": false},
          "axis": {"orient": "bottom", "values": [0,60,120,180,240,300,360,420,480,540,600,660,720,780,840,900,960,1020,1080,1140,1200],
            "labelExpr": "datum.value % 120 === 0 ? '1:' + (10 + datum.value / 60) + ':00' : ''",
            "labelFlush": false, "labelOverlap": false, "labelOffset": 5.5, "labelPadding": 13,
            "tickSize": {"condition": {"test": "datum.value % 120 === 0", "value": -5}, "value": -3},
            "grid": true, "gridOpacity": {"condition": {"test": "datum.value % 120 === 0 && datum.value > 0 && datum.value < 1200", "value": 1}, "value": 0},
            "title": "GPS Time", "titleY": 34, "titleBaseline": "middle"}},
        "y": {"field": "v", "type": "quantitative", "scale": {"domain": [0, 40], "nice": false},
          "axis": {"orient": "left", "values": [0,1,2,3,4,5,6,7,8,9,10,11,12,13,14,15,16,17,18,19,20,21,22,23,24,25,26,27,28,29,30,31,32,33,34,35,36,37,38,39,40],
            "labels": false,
            "tickSize": {"condition": {"test": "datum.value % 10 === 0", "value": -6}, "value": -3},
            "grid": true, "gridOpacity": {"condition": {"test": "datum.value % 10 === 0 && datum.value > 0 && datum.value < 40", "value": 1}, "value": 0},
            "title": "0.01m/div for NS and EW comp. 0.02m/div for UD comp.", "titleX": -20, "titleY": 206, "titleAngle": -90, "titleAlign": "center", "titleBaseline": "middle"}},
        "color": {"field": "s", "type": "nominal", "scale": {"domain": ["NS", "EW", "UD"], "range": ["#eb322d", "#7cbf45", "#2d5ab4"]},
          "legend": {"orient": "none", "legendX": 525, "legendY": 7, "direction": "vertical", "title": null, "labelAlign": "right", "labelOffset": -44, "symbolSize": 6, "symbolType": "square", "rowPadding": -1, "padding": 0}}
      }
    },
    {
      "data": {"name": "lb"},
      "mark": {"type": "line", "color": "#222", "strokeWidth": 1.3},
      "encoding": {
        "x": {"field": "t", "type": "quantitative",
          "axis": {"orient": "top", "values": [0,60,120,180,240,300,360,420,480,540,600,660,720,780,840,900,960,1020,1080,1140,1200],
            "labels": false, "grid": false,
            "tickSize": {"condition": {"test": "datum.value % 120 === 0", "value": -5}, "value": -3},
            "title": "Baseline: 940050-950240", "titleFontSize": 13.3, "titleX": 281, "titleY": -14, "titleAlign": "center", "titleBaseline": "alphabetic", "titleAngle": 0}},
        "y": {"field": "v", "type": "quantitative",
          "axis": {"orient": "right", "values": [0,1,2,3,4,5,6,7,8,9,10,11,12,13,14,15,16,17,18,19,20,21,22,23,24,25,26,27,28,29,30,31,32,33,34,35,36,37,38,39,40],
            "labels": false, "grid": false, "title": null,
            "tickSize": {"condition": {"test": "datum.value % 10 === 0", "value": -6}, "value": -3}}},
        "detail": {"field": "s"}
      }
    },
    {
      "data": {"name": "quake"},
      "mark": {"type": "rule", "strokeDash": [12, 5], "color": "#111", "strokeWidth": 1.3},
      "encoding": {"x": {"field": "q", "type": "quantitative", "axis": null}}
    }
  ]
}
]
}
